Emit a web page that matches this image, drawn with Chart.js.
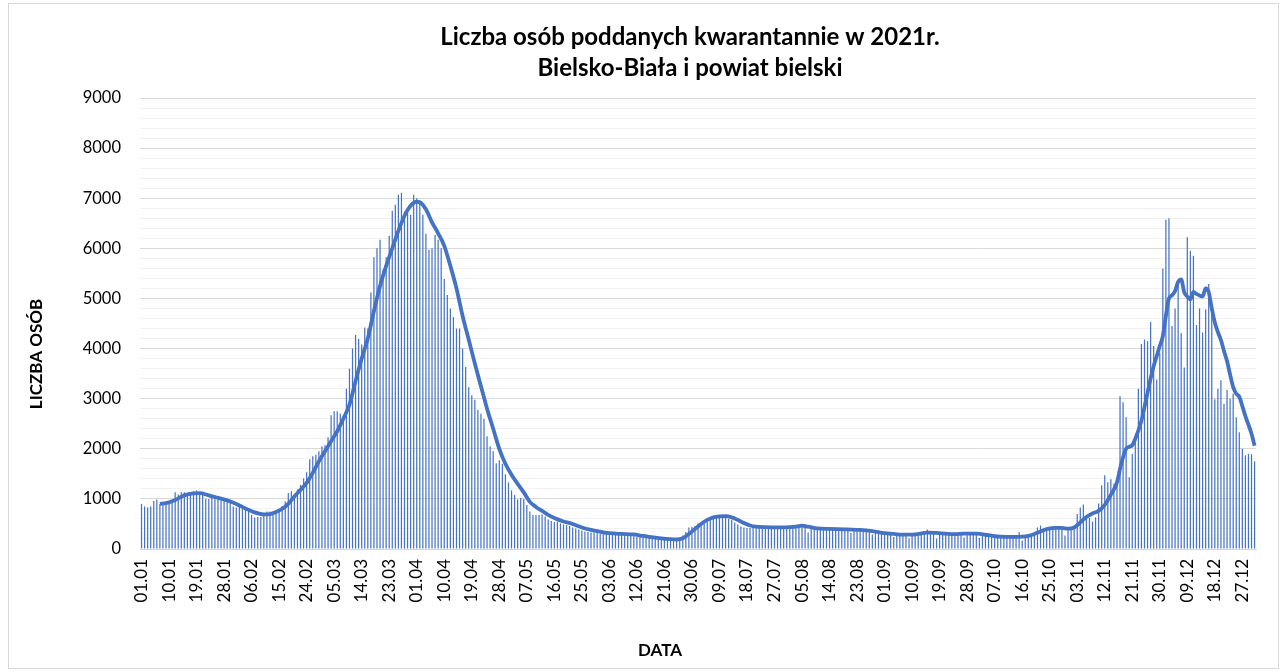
<!DOCTYPE html>
<html lang="pl">
<head>
<meta charset="utf-8">
<title>Liczba osób poddanych kwarantannie w 2021r.</title>
<script src="https://cdn.jsdelivr.net/npm/chart.js@4.4.1/dist/chart.umd.min.js"></script>
<style>
    html, body { margin: 0; padding: 0; background: #fff; }
    canvas { display: block; }
</style>
</head>
<body>
<canvas id="kwarantanna" width="1285" height="672"></canvas>
<script>
// dzienna liczba osób na kwarantannie, miesiąc po miesiącu
const styczen = [900, 850, 830, 850, 960, 990, 900, 920, 930, 950, 970, 1130, 1090, 1130, 1130, 1120, 1130, 1150, 1170, 1130, 1110, 1000, 1000, 1030, 1020, 1020, 1000, 980, 950, 940, 850];
const luty = [830, 850, 810, 800, 760, 680, 630, 640, 640, 710, 750, 750, 740, 760, 760, 860, 950, 1120, 1150, 1090, 1190, 1280, 1410, 1530, 1790, 1850, 1880, 1950];
const marzec = [2050, 2070, 2230, 2670, 2750, 2750, 2700, 2670, 3200, 3600, 4000, 4270, 4190, 4080, 4420, 4400, 5120, 5820, 6000, 6170, 5580, 5820, 6250, 6750, 6870, 7070, 7110, 6730, 6700, 6670, 7070];
const kwiecien = [7000, 6900, 6670, 6290, 5970, 6000, 6270, 6170, 6000, 5390, 5070, 4800, 4630, 4400, 4400, 4000, 3630, 3230, 3070, 2980, 2780, 2700, 2600, 2250, 2050, 1950, 1710, 1770, 1700, 1490];
const maj = [1330, 1170, 1080, 990, 1020, 1000, 880, 750, 680, 680, 680, 690, 650, 590, 560, 540, 540, 510, 490, 480, 460, 430, 410, 390, 370, 350, 340, 330, 330, 320, 310];
const czerwiec = [300, 300, 290, 290, 290, 290, 290, 290, 280, 280, 270, 250, 240, 240, 230, 220, 220, 210, 200, 190, 190, 180, 180, 180, 190, 220, 270, 340, 430, 440];
const lipiec = [460, 510, 540, 580, 600, 640, 660, 670, 660, 650, 630, 600, 580, 530, 490, 450, 430, 420, 420, 420, 430, 420, 420, 430, 420, 420, 430, 420, 410, 410, 420];
const sierpien = [440, 450, 460, 470, 480, 470, 330, 420, 410, 400, 400, 400, 400, 400, 400, 400, 400, 400, 390, 390, 320, 380, 380, 380, 370, 360, 360, 290, 340, 340, 330];
const wrzesien = [320, 310, 300, 240, 290, 290, 290, 290, 210, 290, 290, 300, 300, 310, 390, 330, 320, 210, 320, 320, 310, 300, 290, 290, 300, 300, 230, 310, 310, 310];
const pazdziernik = [300, 220, 290, 280, 270, 260, 250, 240, 240, 240, 230, 240, 240, 240, 340, 170, 250, 260, 280, 300, 430, 470, 400, 400, 410, 420, 420, 410, 400, 270, 410];
const listopad = [400, 420, 700, 830, 890, 630, 620, 550, 630, 910, 1270, 1470, 1330, 1390, 1300, 1400, 3050, 2930, 2630, 1430, 1900, 2130, 3200, 4090, 4180, 4150, 4530, 4050, 3380, 3910];
const grudzien = [5600, 6570, 6600, 4450, 4800, 5300, 4310, 3620, 6220, 5950, 5850, 4470, 4800, 4320, 4780, 5290, 4870, 2990, 3200, 3370, 2900, 3180, 3000, 3100, 2630, 2330, 2000, 1870, 1900, 1890, 1750];

// linia trendu (średnia ruchoma)
const trendDates = ['07.01', '09.01', '12.01', '15.01', '18.01', '20.01', '23.01', '26.01', '29.01',
    '01.02', '04.02', '07.02', '10.02', '12.02', '14.02', '16.02', '18.02', '20.02', '22.02', '24.02', '26.02', '28.02',
    '02.03', '04.03', '06.03', '08.03', '10.03', '12.03', '14.03', '16.03', '18.03', '20.03', '22.03', '24.03', '26.03', '28.03', '30.03',
    '01.04', '02.04', '04.04', '06.04', '08.04', '10.04', '12.04', '14.04', '16.04', '18.04', '20.04', '22.04', '24.04', '26.04', '28.04', '30.04',
    '02.05', '04.05', '06.05', '08.05', '10.05', '12.05', '14.05', '16.05', '19.05', '22.05', '25.05', '28.05', '31.05',
    '03.06', '07.06', '11.06', '14.06', '17.06', '20.06', '23.06', '25.06', '27.06', '29.06',
    '01.07', '03.07', '05.07', '07.07', '09.07', '11.07', '13.07', '15.07', '17.07', '19.07', '21.07', '24.07', '28.07',
    '01.08', '04.08', '05.08', '07.08', '10.08', '14.08', '19.08', '24.08', '28.08',
    '01.09', '04.09', '07.09', '11.09', '15.09', '18.09', '21.09', '24.09', '27.09',
    '01.10', '05.10', '09.10', '13.10', '16.10', '18.10', '20.10', '22.10', '24.10', '27.10', '29.10', '31.10',
    '02.11', '04.11', '06.11', '08.11', '10.11', '12.11', '14.11', '16.11', '17.11', '18.11', '19.11', '20.11', '21.11', '22.11', '24.11', '25.11', '27.11', '28.11', '29.11', '30.11',
    '01.12', '02.12', '03.12', '04.12', '05.12', '06.12', '07.12', '08.12', '09.12', '10.12', '11.12', '12.12', '13.12', '14.12', '15.12', '16.12',
    '17.12', '18.12', '19.12', '20.12', '21.12', '22.12', '23.12', '24.12', '25.12', '26.12', '27.12', '28.12', '29.12', '30.12', '31.12'];
const trendValues = [900, 915, 980, 1070, 1110, 1115, 1070, 1020, 970,
    900, 810, 730, 690, 695, 740, 800, 900, 1050, 1180, 1320, 1520, 1750,
    1950, 2150, 2350, 2600, 2880, 3350, 3800, 4200, 4750, 5250, 5650, 6000, 6350, 6650, 6850,
    6930, 6920, 6780, 6520, 6300, 6050, 5650, 5200, 4650, 4180, 3700, 3250, 2800, 2400, 2000, 1700,
    1480, 1300, 1130, 940, 840, 760, 680, 620, 550, 500, 430, 380, 345,
    315, 300, 290, 260, 235, 210, 195, 190, 215, 300,
    400, 500, 580, 630, 650, 655, 630, 580, 520, 470, 445, 435, 430,
    435, 455, 465, 445, 410, 400, 393, 380, 355,
    315, 300, 285, 292, 325, 320, 305, 295, 305,
    305, 275, 245, 240, 245, 262, 300, 350, 395, 420, 420, 405,
    430, 530, 640, 710, 760, 880, 1080, 1330, 1600, 1830, 2000, 2040, 2070, 2200, 2560, 2830, 3400, 3650, 3850, 4050,
    4250, 4650, 5000, 5060, 5150, 5330, 5380, 5120, 5040, 4980, 5130, 5090, 5060, 5040, 5200, 5130,
    4800, 4520, 4330, 4170, 3950, 3750, 3480, 3230, 3100, 3040, 2850, 2650, 2480, 2300, 2060];

const dniMiesiaca = [31, 28, 31, 30, 31, 30, 31, 31, 30, 31, 30, 31];
const pad = n => (n < 10 ? '0' : '') + n;
const etykiety = [];
dniMiesiaca.forEach((ile, m) => {
    for (let d = 1; d <= ile; d++) {
        etykiety.push(pad(d) + '.' + pad(m + 1));
    }
});

const dzienne = [].concat(styczen, luty, marzec, kwiecien, maj, czerwiec, lipiec, sierpien, wrzesien, pazdziernik, listopad, grudzien);

const FONT = 'Lato, "Open Sans", sans-serif';
const KOLOR = '#4472C4';

// ramka wykresu, tytuł i opisy osi
const opisy = {
    id: 'opisy',
    beforeDraw(chart) {
        const ctx = chart.ctx;
        ctx.save();
        ctx.fillStyle = '#fff';
        ctx.fillRect(0, 0, chart.width, chart.height);
        ctx.strokeStyle = '#d9d9d9';
        ctx.lineWidth = 1;
        ctx.strokeRect(8.5, 3.5, 1270, 665);
        ctx.restore();
    },
    afterDraw(chart) {
        const ctx = chart.ctx;
        ctx.save();
        ctx.fillStyle = '#000';
        ctx.textAlign = 'center';
        ctx.textBaseline = 'middle';
        ctx.font = 'bold 24px ' + FONT;
        ctx.fillText('Liczba osób poddanych kwarantannie w 2021r.', 690, 37);
        ctx.fillText('Bielsko-Biała i powiat bielski', 690, 68);

        ctx.font = 'bold 17px ' + FONT;
        ctx.fillText('DATA', 660, 651);
        ctx.translate(37, 354);
        ctx.rotate(-Math.PI / 2);
        ctx.fillText('LICZBA OSÓB', 0, 0);
        ctx.restore();
    }
};

new Chart(document.getElementById('kwarantanna'), {
    type: 'bar',
    data: {
        labels: etykiety,
        datasets: [
            {
                type: 'line',
                label: 'Średnia ruchoma',
                data: trendDates.map((d, i) => ({ x: d, y: trendValues[i] })),
                borderColor: KOLOR,
                borderWidth: 3.8,
                pointRadius: 0,
                cubicInterpolationMode: 'monotone',
                spanGaps: true,
                fill: false
            },
            {
                label: 'Liczba osób',
                data: dzienne,
                backgroundColor: KOLOR,
                categoryPercentage: 1,
                barPercentage: 0.4
            }
        ]
    },
    options: {
        responsive: false,
        animation: false,
        layout: { padding: { left: 0, right: 20, top: 98, bottom: 0 } },
        plugins: {
            legend: { display: false },
            tooltip: { enabled: false }
        },
        scales: {
            x: {
                offset: true,
                grid: { display: false, drawTicks: false },
                border: { color: '#d9d9d9', width: 1 },
                ticks: {
                    autoSkip: false,
                    maxRotation: 90,
                    minRotation: 90,
                    padding: 10,
                    color: '#000',
                    font: { family: FONT, size: 17 },
                    callback: function(value, index) {
                        return index % 9 === 0 ? this.getLabelForValue(value) : '';
                    }
                },
                afterFit(scale) { scale.height = 123; }
            },
            y: {
                min: 0,
                max: 9000,
                border: { display: false },
                grid: {
                    drawTicks: false,
                    color: ctx => (ctx.tick && ctx.tick.value % 1000 === 0) ? '#d9d9d9' : '#f2f2f2'
                },
                ticks: {
                    stepSize: 200,
                    maxTicksLimit: 100,
                    autoSkip: false,
                    padding: 19,
                    color: '#000',
                    font: { family: FONT, size: 16.5 },
                    callback: v => v % 1000 === 0 ? String(v) : ''
                },
                afterFit(scale) { scale.width = 140; }
            }
        }
    },
    plugins: [opisy]
});
</script>
</body>
</html>
